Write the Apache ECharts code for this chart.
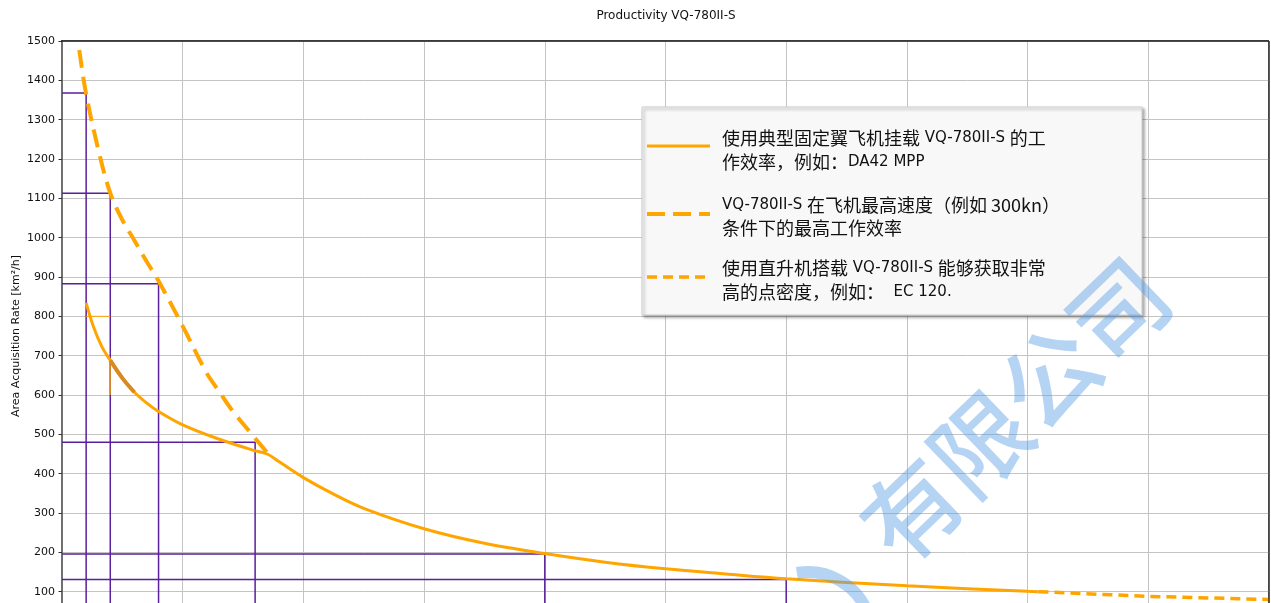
<!DOCTYPE html>
<html>
<head>
<meta charset="utf-8">
<script src="https://cdn.jsdelivr.net/npm/echarts@6/dist/echarts.min.js"></script>
<style>
html,body{margin:0;padding:0;background:#ffffff;overflow:hidden;}
#chart{width:1271px;height:660px;}
</style>
</head>
<body>
<div id="chart"></div>
<script>
// ---- data ----
const chartTitle = 'Productivity VQ-780II-S';
const yAxisName = 'Area Acquisition Rate [km²/h]';
const yMin = 0, yMax = 1500, yStep = 100;
const xMin = 0, xMax = 100, xStep = 10;

// purple reference rectangles (density, rate)
const densityMarks = [2, 4, 8, 16, 40, 60];
const rateMarks = [1368, 1113, 883, 480, 196, 131];

// fixed-wing (solid)
const fixedWingX = [2, 2.6, 3.3, 4, 5, 6, 7, 8, 10, 12.8, 15.8, 17, 18, 20, 22.5, 25, 30, 35, 40, 45, 50, 55, 60, 70, 80, 80.9];
const fixedWingY = [834, 774, 723, 688, 643, 607, 580, 558, 524, 490, 460, 450, 430, 390, 348, 312, 260, 223, 197, 175, 158, 145, 133, 115, 101, 100];

// darker overlay piece on the solid curve
const darkSegX = [4, 5, 6];
const darkSegY = [688, 643, 607];

// max-speed curve (long dashes)
const maxSpeedX = [1.43, 2, 3, 4, 5, 6, 7, 8, 10, 12, 13, 14, 16, 17.1];
const maxSpeedY = [1477, 1365, 1225, 1113, 1045, 993, 940, 890, 775, 655, 610, 565, 490, 450];

// helicopter (short dashes)
const heliX = [80.9, 90, 100];
const heliY = [100, 88, 80];

// thin orange guide strokes
const guideH = { x: [2, 4], y: [800, 800] };
const guideV = { x: [4, 4], y: [688, 600] };

const legendEntries = [
  ['{c|使用典型固定翼飞机挂载}{l| VQ-780II-S }{c|的工}', '{c|作效率，例如：}{l|DA42 MPP}'],
  ['{l|VQ-780II-S }{c|在飞机最高速度（例如 300kn）}', '{c|条件下的最高工作效率}'],
  ['{c|使用直升机搭载}{l| VQ-780II-S }{c|能够获取非常}', '{c|高的点密度，例如：}{l|  EC 120.}']
];
const watermarkText = '有限公司';

// ---- build ----
const zip = (xs, ys) => xs.map((x, i) => [x, ys[i]]);
const ORANGE = '#ffa500';
const PURPLE = '#5a1f9c';

const series = [];
densityMarks.forEach((d, i) => {
  series.push({
    type: 'line', symbol: 'none', silent: true, z: 3,
    data: [[xMin, rateMarks[i]], [d, rateMarks[i]], [d, yMin]],
    lineStyle: { color: PURPLE, width: 1.5 }
  });
});
series.push({
  type: 'line', symbol: 'none', z: 4, data: zip(guideH.x, guideH.y),
  lineStyle: { color: ORANGE, width: 1 }
});
series.push({
  type: 'line', symbol: 'none', z: 4, data: zip(guideV.x, guideV.y),
  lineStyle: { color: '#e8901a', width: 1.2 }
});
series.push({
  type: 'line', symbol: 'none', z: 5, smooth: 0.35,
  data: zip(fixedWingX, fixedWingY),
  lineStyle: { color: ORANGE, width: 3 }
});
series.push({
  type: 'line', symbol: 'none', z: 6, smooth: 0.35,
  data: zip(darkSegX, darkSegY),
  lineStyle: { color: '#d98a1e', width: 4 }
});
series.push({
  type: 'line', symbol: 'none', z: 5, smooth: 0.35,
  data: zip(maxSpeedX, maxSpeedY),
  lineStyle: { color: ORANGE, width: 4, type: [18, 9] }
});
series.push({
  type: 'line', symbol: 'none', z: 5,
  data: zip(heliX, heliY),
  lineStyle: { color: ORANGE, width: 3.5, type: [10, 6] }
});

const graphics = [];
graphics.push({
  type: 'text', x: 666, y: 16, z: 10,
  style: { text: chartTitle, fontFamily: 'DejaVu Sans', fontSize: 12, fill: '#111', align: 'center', verticalAlign: 'middle' }
});
// dark frame on top and right of the plot
graphics.push({ type: 'line', z: 8, shape: { x1: 61, y1: 41, x2: 1269, y2: 41 }, style: { stroke: '#222', lineWidth: 1.3 } });
graphics.push({ type: 'line', z: 8, shape: { x1: 1269, y1: 41, x2: 1269, y2: 603 }, style: { stroke: '#222', lineWidth: 1.3 } });
// legend box
graphics.push({
  type: 'rect', z: 20,
  shape: { x: 642, y: 107, width: 500, height: 208 },
  style: { fill: '#f8f8f8', stroke: '#cfcfcf', lineWidth: 1, shadowBlur: 3, shadowOffsetX: 2, shadowOffsetY: 2, shadowColor: 'rgba(0,0,0,0.35)' }
});
const sampleY = [146, 214, 277];
const sampleDash = [null, [18, 8], [10, 6]];
const sampleW = [3, 4, 3.5];
sampleY.forEach((sy, i) => {
  graphics.push({
    type: 'line', z: 21,
    shape: { x1: 647, y1: sy, x2: 710, y2: sy },
    style: { stroke: ORANGE, lineWidth: sampleW[i], lineDash: sampleDash[i] }
  });
});
const lineY = [[138, 162], [205, 228], [268, 292]];
const rich = {
  c: { fontFamily: 'Noto Sans CJK SC', fontSize: 18, fill: '#111' },
  l: { fontFamily: 'DejaVu Sans', fontSize: 15, fill: '#111' }
};
legendEntries.forEach((ent, i) => {
  ent.forEach((txt, j) => {
    graphics.push({
      type: 'text', z: 22, x: 722, y: lineY[i][j],
      style: { text: txt, rich: rich, verticalAlign: 'middle', align: 'left' }
    });
  });
});
// watermark
graphics.push({
  type: 'text', z: 50, x: 1015, y: 410, rotation: Math.PI * 44 / 180, silent: true,
  style: { text: watermarkText, fontFamily: 'Noto Sans CJK SC', fontWeight: 500, fontSize: 96, fill: 'rgba(90,160,230,0.45)', align: 'center', verticalAlign: 'middle' }
});
graphics.push({
  type: 'arc', z: 50, silent: true,
  shape: { cx: 808, cy: 636, r: 64, startAngle: -Math.PI * 100 / 180, endAngle: -Math.PI * 20 / 180 },
  style: { stroke: 'rgba(90,160,230,0.45)', lineWidth: 12, fill: null }
});

const chart = echarts.init(document.getElementById('chart'), null, { renderer: 'canvas' });
chart.setOption({
  animation: false,
  backgroundColor: '#ffffff',
  grid: { left: 62, right: 2, top: 41, bottom: 29, outerBoundsMode: 'none', containLabel: false, show: true, borderColor: '#111', borderWidth: 1, backgroundColor: 'transparent' },
  xAxis: {
    type: 'value', min: xMin, max: xMax, interval: xStep,
    axisLine: { show: false }, axisTick: { show: false }, axisLabel: { show: false },
    splitLine: { show: true, lineStyle: { color: '#c4c4c4', width: 1 } }
  },
  yAxis: {
    type: 'value', min: yMin, max: yMax, interval: yStep,
    name: yAxisName, nameLocation: 'middle', nameGap: 40, nameRotate: 90, nameMoveOverlap: false,
    nameTextStyle: { fontFamily: 'DejaVu Sans', fontSize: 11, color: '#111' },
    axisLine: { show: true, lineStyle: { color: '#707070', width: 2 } },
    axisTick: { show: true, length: 3.5, lineStyle: { color: '#333' } },
    axisLabel: { fontFamily: 'DejaVu Sans', fontSize: 11, color: '#111', margin: 7, formatter: v => String(v) },
    splitLine: { show: true, lineStyle: { color: '#c4c4c4', width: 1 } }
  },
  series: series,
  graphic: graphics
});
</script>
</body>
</html>
